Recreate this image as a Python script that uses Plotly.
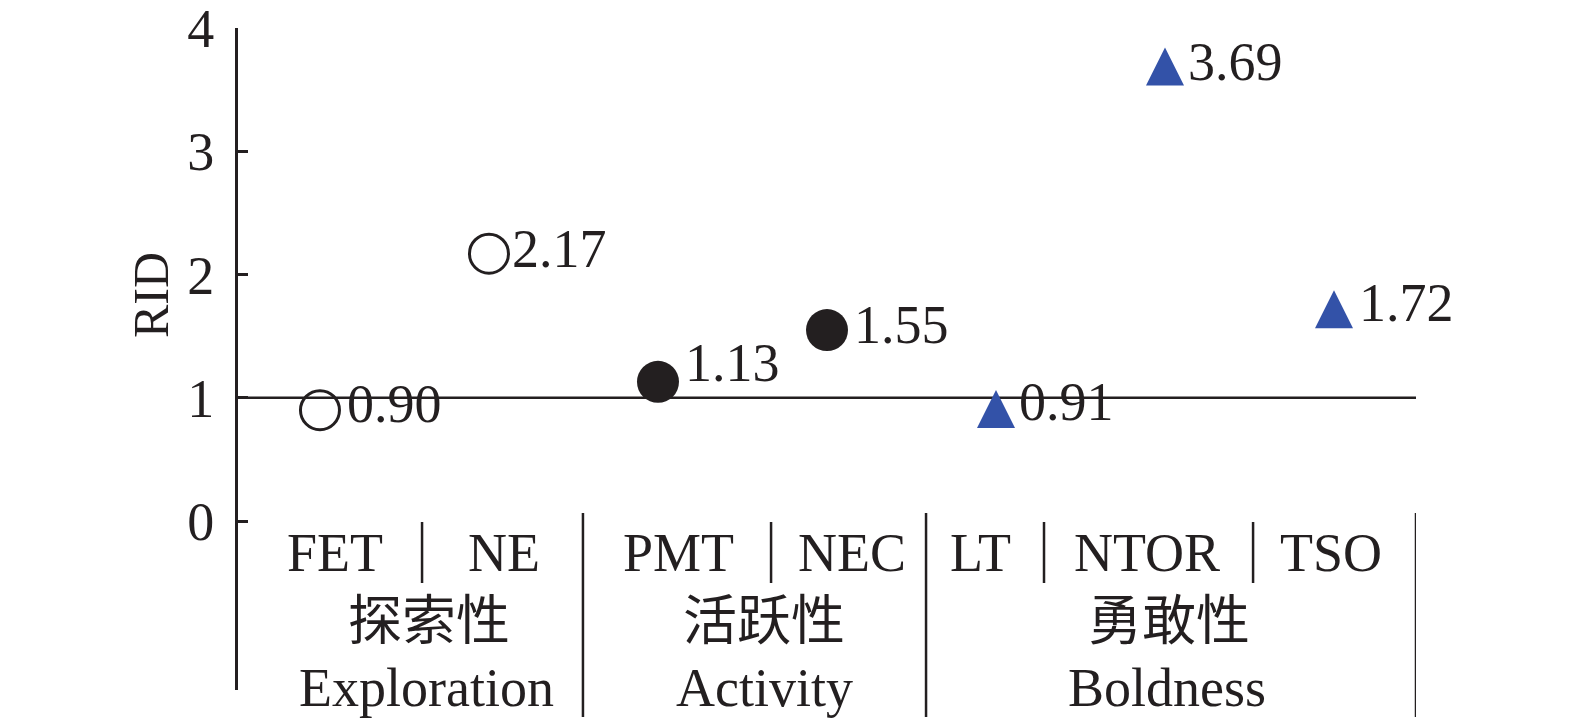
import plotly.graph_objects as go

# ---------------- data ----------------
codes = ["FET", "NE", "PMT", "NEC", "LT", "NTOR", "TSO"]
rid_values = [0.90, 2.17, 1.13, 1.55, 0.91, 3.69, 1.72]
value_labels = ["0.90", "2.17", "1.13", "1.55", "0.91", "3.69", "1.72"]
group_cn = ["探索性", "活跃性", "勇敢性"]
group_en = ["Exploration", "Activity", "Boldness"]
group_members = [[0, 1], [2, 3], [4, 5, 6]]
y_ticks = [0, 1, 2, 3, 4]
reference_level = 1

# ---------------- style / layout ----------------
PAGE_W, PAGE_H = 1575, 722
OFF = 8  # default body margin of the html page
W, H = PAGE_W - OFF, PAGE_H - OFF
# target plot area in page pixels
AX_LEFT, AX_RIGHT, AX_TOP, AX_BOTTOM = 238, 1416, 28, 690
L = AX_LEFT - OFF
R = PAGE_W - AX_RIGHT
T = AX_TOP - OFF
B = PAGE_H - AX_BOTTOM
Y_MAX = 4.002
Y_MIN = -1.371
X_RANGE = [-0.485, 6.485]
FONT = "Liberation Serif, Noto Sans CJK SC, serif"
FS = 54
BLACK = "#231f20"
BLUE = "#3352a8"

plot_w = W - L - R
plot_h = H - T - B
ppu_y = plot_h / (Y_MAX - Y_MIN)


def px_to_paper_y(py):
    return (AX_BOTTOM - py) / plot_h


def px_to_paper_x(px):
    return (px - AX_LEFT) / plot_w


# offsets of text relative to category index (style)
code_label_dx = [0.089, 0.089, 0.124, 0.148, -0.089, -0.107, -0.018]
small_bar_x = [0.604, 2.669, 4.284, 5.521]
group_sep_x = [1.556, 3.586, 6.485]
group_cn_dx = [0.645 - 0.5, 2.627 - 2.5, 5.024 - 5.0]
group_en_dx = [0.633 - 0.5, 2.633 - 2.5, 5.012 - 5.0]
label_yshift = [6, 5, 19, 5, 7, 4, 6]
label_xshift = [25, 21, 25, 25, 21, 21, 23]

xs = list(range(len(codes)))
fig = go.Figure()

# open circles (Exploration)
idx = group_members[0]
fig.add_trace(go.Scatter(
    x=[xs[i] for i in idx], y=[rid_values[i] for i in idx], mode="markers",
    marker=dict(symbol="circle-open", size=39, color=BLACK, line=dict(width=3, color=BLACK)),
    showlegend=False, hoverinfo="skip"))

# filled circles (Activity)
idx = group_members[1]
fig.add_trace(go.Scatter(
    x=[xs[i] for i in idx], y=[rid_values[i] for i in idx], mode="markers",
    marker=dict(symbol="circle", size=42, color=BLACK),
    showlegend=False, hoverinfo="skip"))

# triangles (Boldness) - arrow-up marker hangs below its apex; shifted axis centres it
TRI = 38
shift = (TRI / 2) / ppu_y
idx = group_members[2]
fig.add_trace(go.Scatter(
    x=[xs[i] for i in idx], y=[rid_values[i] for i in idx], mode="markers",
    yaxis="y2",
    marker=dict(symbol="arrow-up", size=TRI, color=BLUE, line=dict(width=0)),
    showlegend=False, hoverinfo="skip"))

shapes = []
# reference line y = 1
shapes.append(dict(type="line", xref="paper", yref="y", x0=0, x1=1,
                   y0=reference_level, y1=reference_level,
                   line=dict(color=BLACK, width=2.5), layer="below"))
# group separators
for gx in group_sep_x:
    shapes.append(dict(type="line", xref="x", yref="paper", x0=gx, x1=gx,
                       y0=px_to_paper_y(717), y1=px_to_paper_y(513),
                       line=dict(color=BLACK, width=2.5)))
# small separators between codes
for sx in small_bar_x:
    shapes.append(dict(type="line", xref="x", yref="paper", x0=sx, x1=sx,
                       y0=px_to_paper_y(583), y1=px_to_paper_y(522),
                       line=dict(color=BLACK, width=2.5)))

annotations = []
# value labels
for i, (v, t) in enumerate(zip(rid_values, value_labels)):
    annotations.append(dict(x=xs[i], y=v, xref="x", yref="y", text=t, showarrow=False,
                            xanchor="left", yanchor="middle",
                            xshift=label_xshift[i], yshift=label_yshift[i],
                            font=dict(family=FONT, size=FS, color=BLACK)))
# code labels
for i, c in enumerate(codes):
    annotations.append(dict(x=xs[i] + code_label_dx[i], y=px_to_paper_y(553), xref="x", yref="paper",
                            text=c, showarrow=False, xanchor="center", yanchor="middle",
                            font=dict(family=FONT, size=FS, color=BLACK)))
# group labels
for g in range(len(group_cn)):
    m = group_members[g]
    center = (xs[m[0]] + xs[m[-1]]) / 2
    annotations.append(dict(x=center + group_cn_dx[g], y=px_to_paper_y(622), xref="x", yref="paper",
                            text=group_cn[g], showarrow=False, xanchor="center", yanchor="middle",
                            font=dict(family=FONT, size=FS, color=BLACK)))
    annotations.append(dict(x=center + group_en_dx[g], y=px_to_paper_y(688), xref="x", yref="paper",
                            text=group_en[g], showarrow=False, xanchor="center", yanchor="middle",
                            font=dict(family=FONT, size=FS, color=BLACK)))
# y-axis title
annotations.append(dict(x=px_to_paper_x(151), y=px_to_paper_y(295), xref="paper", yref="paper",
                        text="RID", textangle=-90, showarrow=False,
                        xanchor="center", yanchor="middle",
                        font=dict(family=FONT, size=50, color=BLACK)))

fig.update_layout(
    width=W, height=H,
    margin=dict(l=L, r=R, t=T, b=B, pad=0, autoexpand=False),
    paper_bgcolor="white", plot_bgcolor="white",
    showlegend=False,
    xaxis=dict(range=X_RANGE, visible=False, showgrid=False, zeroline=False, automargin=False),
    yaxis=dict(range=[Y_MIN, Y_MAX], tickvals=y_ticks, ticktext=[str(t) for t in y_ticks],
               showline=True, linecolor=BLACK, linewidth=3,
               ticks="inside", ticklen=10, tickwidth=3, tickcolor=BLACK,
               ticklabelstandoff=10, automargin=False, ticklabeloverflow="allow",
               showgrid=False, zeroline=False,
               tickfont=dict(family=FONT, size=FS, color=BLACK)),
    yaxis2=dict(range=[Y_MIN - shift, Y_MAX - shift], overlaying="y", visible=False,
                showgrid=False, zeroline=False, automargin=False),
    shapes=shapes,
    annotations=annotations,
)

fig.write_html("out.html")
